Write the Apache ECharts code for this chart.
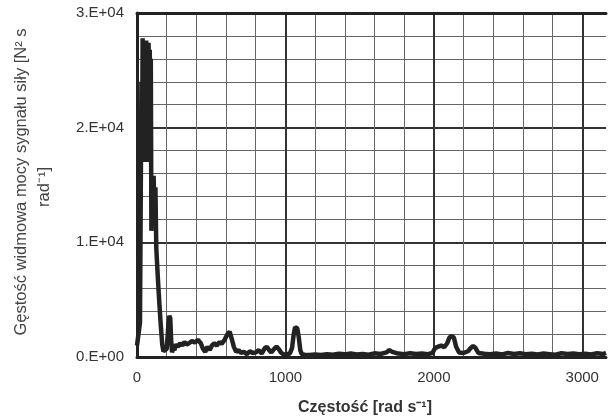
<!DOCTYPE html>
<html>
<head>
<meta charset="utf-8">
<style>
  html, body { margin: 0; padding: 0; background: #fff; }
  #chart { width: 609px; height: 420px; }
</style>
<script src="https://cdn.jsdelivr.net/npm/echarts@6/dist/echarts.min.js"></script>
</head>
<body>
<div id="chart"></div>
<script>
// spectrum: frequency [rad/s] and power density
const freq = [
    0, 20, 30, 34, 38, 42, 46, 50, 54, 58, 62, 66, 70, 74, 78, 82, 86, 90, 93, 97,
    100, 106, 112, 118, 124, 130, 140, 150, 160, 170, 178,
    188, 200, 210, 218, 224, 230, 236, 244, 252, 262, 275, 290, 305, 320, 335, 350, 370, 390, 410, 420,
    430, 445, 460, 475, 490, 505, 520, 537, 555, 570, 590, 610, 624, 638, 652, 668, 685, 700, 720, 740,
    760, 780, 800, 820, 840, 860, 875, 890, 905, 920, 940, 955, 970, 990, 1010, 1030, 1045, 1055, 1065, 1080,
    1090, 1100, 1110, 1130, 1160, 1200, 1240, 1280, 1320, 1360, 1400, 1440, 1480, 1520, 1560, 1600, 1640, 1680, 1700, 1720,
    1760, 1800, 1840, 1880, 1920, 1960, 1990, 2010, 2030, 2050, 2070, 2090, 2105, 2120, 2135, 2150, 2170, 2200, 2230, 2250,
    2265, 2280, 2300, 2340, 2380, 2420, 2460, 2500, 2540, 2580, 2620, 2660, 2700, 2740, 2780, 2820, 2860, 2900, 2940, 2980,
    3020, 3060, 3100, 3140, 3160
];
const power = [
    1000, 3000, 24000, 17000, 27800, 17500, 27500, 17000, 27000, 18000, 27600, 17500, 27000, 17000, 27400, 17200, 26800, 17500, 26000, 11000,
    15500, 12000, 15800, 12500, 14800, 9500, 7000, 4800, 2800, 1100, 500,
    500, 700, 2500, 3600, 3400, 1500, 400, 800, 600, 1100, 900, 1200, 1000, 1300, 1100, 1200, 1400, 1250, 1500, 1650,
    1200, 700, 450, 900, 600, 1000, 1200, 1000, 1300, 1150, 1500, 2000, 2200, 1600, 900, 450, 600, 350, 450, 250,
    500, 350, 400, 600, 300, 750, 900, 600, 400, 650, 900, 700, 400, 200, 250, 300, 800, 1900, 2600, 2500,
    1700, 600, 250, 200, 180, 220, 180, 250, 200, 280, 230, 300, 220, 260, 200, 320, 260, 400, 600, 450,
    300, 250, 330, 270, 300, 250, 350, 800, 900, 1000, 850, 1200, 1700, 1800, 1700, 900, 400, 350, 500, 800,
    950, 800, 350, 280, 250, 300, 230, 350, 260, 320, 250, 280, 220, 300, 250, 200, 330, 260, 300, 240,
    280, 220, 330, 260, 350
];

const xMax = 3160; // plot is cut off by the right edge of the picture
const xLabelStep = 1000;
const yLabelStep = 10000;

function sciLabel(v) {
    if (v === 0) return '0.E+00';
    const exp = Math.floor(Math.log10(v));
    const mant = Math.round(v / Math.pow(10, exp));
    return mant + '.E+' + String(exp).padStart(2, '0');
}

const font = "'Liberation Sans', Arial, sans-serif";
const minorLine = { show: true, showMaxLine: false, lineStyle: { color: '#666', width: 1 } };
const majorLine = { show: true, showMaxLine: false, lineStyle: { color: '#333', width: 2 } };
const frameLine = { show: true, onZero: false, lineStyle: { color: '#222', width: 3 } };

const options = {
    animation: false,
    backgroundColor: '#fff',
    grid: {
        left: 137,
        top: 13,
        bottom: 63,
        right: 0,
    },
    xAxis: [
        {
            type: 'value', position: 'top', min: 0, max: xMax, interval: 200,
            axisLine: frameLine, axisTick: { show: false }, axisLabel: { show: false },
            splitLine: minorLine,
        },
        {
            type: 'value', position: 'bottom', min: 0, max: xMax, interval: xLabelStep,
            axisLine: frameLine,
            axisTick: { show: false },
            axisLabel: {
                color: '#333', fontSize: 15, fontFamily: font, margin: 13,
                formatter: v => (v % xLabelStep ? '' : String(v)),
            },
            splitLine: majorLine,
        },
    ],
    yAxis: [
        {
            type: 'value', position: 'left', min: 0, max: 30000, interval: 2000,
            axisLine: { show: false }, axisTick: { show: false }, axisLabel: { show: false },
            splitLine: minorLine,
        },
        {
            type: 'value', position: 'left', min: 0, max: 30000, interval: yLabelStep,
            axisLine: frameLine,
            axisTick: { show: false },
            axisLabel: { color: '#333', fontSize: 15, fontFamily: font, margin: 13, formatter: sciLabel },
            splitLine: majorLine,
        },
    ],
    series: [
        {
            type: 'line',
            xAxisIndex: 1,
            yAxisIndex: 1,
            data: freq.map((f, i) => [f, power[i]]),
            showSymbol: false,
            lineStyle: { color: '#222', width: 4.5 },
            z: 5,
        },
    ],
    graphic: [
        {
            type: 'text', x: 365, y: 408,
            style: {
                text: 'Częstość [rad s⁻¹]',
                font: 'bold 16px ' + font, fill: '#333',
                align: 'center', verticalAlign: 'middle',
            },
        },
        {
            type: 'text', x: 21, y: 182, rotation: Math.PI / 2,
            style: {
                text: 'Gęstość widmowa mocy sygnału siły [N² s',
                font: '16.5px ' + font, fill: '#444',
                align: 'center', verticalAlign: 'middle',
            },
        },
        {
            type: 'text', x: 44, y: 187, rotation: Math.PI / 2,
            style: {
                text: 'rad⁻¹]',
                font: '16.5px ' + font, fill: '#444',
                align: 'center', verticalAlign: 'middle',
            },
        },
    ],
};

const chart = echarts.init(document.getElementById('chart'));
chart.setOption(options);
</script>
</body>
</html>
